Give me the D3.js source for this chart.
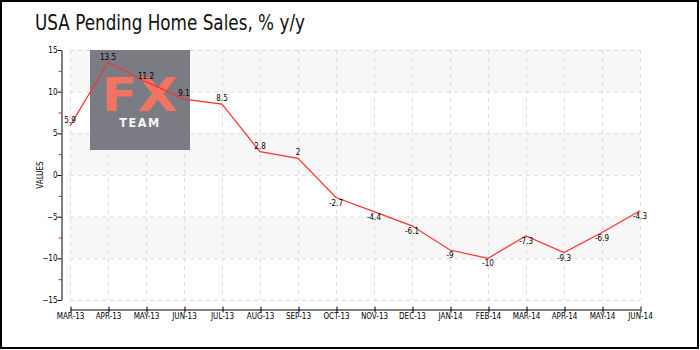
<!DOCTYPE html>
<html><head><meta charset="utf-8">
<script src="https://cdn.jsdelivr.net/npm/d3@7"></script>
<style>body{margin:0;background:#fff}svg{display:block}text{font-family:"DejaVu Sans Condensed","DejaVu Sans",sans-serif}</style>
</head><body><svg id="c" width="700" height="350"></svg>
<script>
const categories = ["MAR-13","APR-13","MAY-13","JUN-13","JUL-13","AUG-13","SEP-13","OCT-13","NOV-13","DEC-13","JAN-14","FEB-14","MAR-14","APR-14","MAY-14","JUN-14"];
const values = [5.9,13.5,11.2,9.1,8.5,2.8,2,-2.7,-4.4,-6.1,-9,-10,-7.3,-9.3,-6.9,-4.3];
const labels = ["5.9","13.5","11.2","9.1","8.5","2.8","2","-2.7","-4.4","-6.1","-9","-10","-7.3","-9.3","-6.9","-4.3"];
const yTicks = [-15,-10,-5,0,5,10,15];
const yMinorTicks = [-12.5,-7.5,-2.5,2.5,7.5,12.5];
const bands = [[10,15],[0,5],[-10,-5]];

const svg = d3.select("#c");
svg.append("rect").attr("x",1).attr("y",1).attr("width",697).attr("height",347).attr("fill","#fff").attr("stroke","#000").attr("stroke-width",2);

const x = d3.scalePoint().domain(categories).range([70,640]);
const y = d3.scaleLinear().domain([-15,15]).range([300,50]);

svg.append("text").attr("x",35).attr("y",30).attr("font-family","'Liberation Sans Narrow','DejaVu Sans Condensed',sans-serif")
  .attr("font-size",21).attr("fill","#111").attr("textLength",270).attr("lengthAdjust","spacingAndGlyphs").text("USA Pending Home Sales, % y/y");

// bands
svg.append("g").selectAll("rect").data(bands).join("rect")
  .attr("x",70).attr("width",570).attr("y",d=>y(d[1])).attr("height",d=>y(d[0])-y(d[1])).attr("fill","#f7f7f7");

// grid
const g = svg.append("g").attr("stroke","#ddd").attr("stroke-dasharray","4,4").attr("stroke-width",1);
g.selectAll("line.h").data(yTicks).join("line").attr("class","h")
  .attr("x1",70).attr("x2",640).attr("y1",d=>y(d)+0.5).attr("y2",d=>y(d)+0.5);
g.selectAll("line.v").data(categories).join("line").attr("class","v")
  .attr("x1",d=>x(d)+0.5).attr("x2",d=>x(d)+0.5).attr("y1",50).attr("y2",300);

// watermark
const wm = svg.append("g");
wm.append("rect").attr("x",90).attr("y",50).attr("width",100).attr("height",100).attr("fill","#74747c").attr("opacity",0.95);
wm.append("text").attr("x",140).attr("y",111).attr("text-anchor","middle").attr("font-family","DejaVu Sans").attr("font-weight","bold").attr("font-size",46).attr("fill","#f07462").attr("textLength",76).attr("lengthAdjust","spacingAndGlyphs").text("FX");
wm.append("text").attr("x",140).attr("y",127).attr("text-anchor","middle").attr("font-family","DejaVu Sans").attr("font-weight","bold").attr("font-size",12.5).attr("letter-spacing",1.5).attr("fill","#f4f4f4").text("TEAM");

// y axis
const ya = svg.append("g").attr("transform","translate(61.5,0)");
ya.call(d3.axisLeft(y).tickValues(yTicks).tickSize(4).tickSizeOuter(0).tickFormat(d3.format("d")));
ya.select(".domain").attr("stroke","#000");
ya.selectAll(".tick text").attr("font-size",8).attr("fill","#000").attr("x",-4);
ya.selectAll(".tick line").attr("stroke","#000");
ya.selectAll("line.minor").data(yMinorTicks).join("line").attr("class","minor")
  .attr("x1",-3).attr("x2",0).attr("y1",d=>y(d)+0.5).attr("y2",d=>y(d)+0.5).attr("stroke","#e02020");

svg.append("text").attr("transform","translate(43,175) rotate(-90)").attr("text-anchor","middle").attr("font-size",8).attr("fill","#000").text("VALUES");

// x axis
const xa = svg.append("g").attr("transform","translate(0,309.5)");
xa.call(d3.axisBottom(x).tickSize(0).tickSizeOuter(0));
xa.select(".domain").attr("stroke","#000");
xa.selectAll(".tick line").remove();
xa.selectAll(".tick").append("line").attr("x1",0.5).attr("x2",0.5).attr("y1",-3).attr("y2",3).attr("stroke","#000");
xa.selectAll(".tick text").attr("font-size",8).attr("fill","#000").attr("y",4).attr("dy","0.71em");

// line
const line = d3.line().x((d,i)=>x(categories[i])).y(d=>y(d));
svg.append("path").datum(values).attr("d",line).attr("fill","none").attr("stroke","#ff3030").attr("stroke-width",1.2);

// labels
svg.append("g").selectAll("text").data(values).join("text")
  .attr("x",(d,i)=>x(categories[i]))
  .attr("y",d=>d>=0 ? y(d)-3 : y(d)+8)
  .attr("text-anchor","middle").attr("font-size",8).attr("fill","#000")
  .text((d,i)=>labels[i]);
</script></body></html>
